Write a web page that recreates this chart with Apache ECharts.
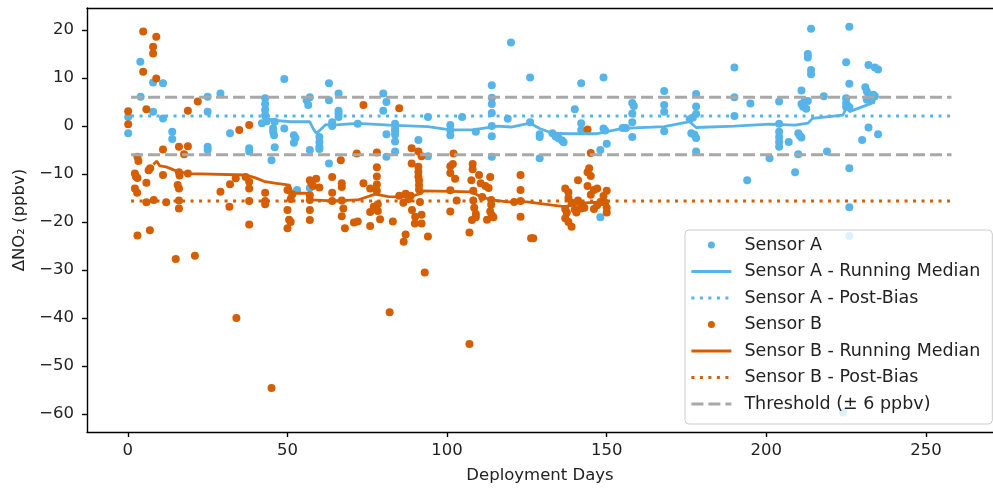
<!DOCTYPE html>
<html>
<head>
<meta charset="utf-8">
<script src="https://cdn.jsdelivr.net/npm/echarts@6/dist/echarts.min.js"></script>
<style>
  html, body { margin: 0; padding: 0; background: #fff; }
  #chart { width: 993px; height: 494px; }
</style>
</head>
<body>
<div id="chart"></div>
<script>
// Sensor A points [day, ΔNO2]
const sensorA = [
  [0.1, 1.9], [0.1, -1.5], [3.9, 13.4], [4, 6.1], [7.9, 9.1], [7.9, 3.0], [11, 8.9], [11, 1.6], [13.9, -1.2], [13.9, -2.7],
  [25, 6.1], [25, 3.0], [25, -4.3], [25, -5.0], [29, 6.8], [32, -1.5], [38, -4.6], [38, -5.3],
  [42, 0.6], [43, 5.8], [43, 4.6], [43, 3.4], [43, 2.3], [43.5, 1.0], [45.5, -0.5], [45.5, -1.2], [45.8, -1.9], [46, -4.4], [45, -7.1], [46, 0.9],
  [49, 9.8], [49, -0.5], [52, -1.9], [52.5, -2.5], [52, -3.5], [53, -13.3], [56, 5.4], [56.5, 4.4], [57, 6.0], [57, -5.0], [57, -12.9],
  [60, -2.3], [60, -3.3], [60, -4.3], [60, -4.8], [63, 8.9], [63, 5.4], [63, -7.8], [64, 0.8], [64, 0], [66, 6.8], [66, 3.2], [66, 2.6], [66, 1.9],
  [72, 0.5], [80, 6.8], [81, 5.0], [80, 3.2], [81, -1.7], [81, -6.4],
  [83.7, 0.5], [83.7, -0.5], [83.7, -1.1], [83.7, -1.8], [83.7, -3.2], [83.7, -5.3], [91, -2.9], [94, 1.9], [94, -6.3],
  [101, 0.2], [101, -0.8], [101, -1.9], [104.7, 1.9], [109, -1.2],
  [114, 8.5], [114, 5.9], [114, 4.6], [114, 2.7], [114, 0], [114, -2.1], [114, -6.4],
  [119, 1.5], [120, 17.4], [126, 10.1], [126, 0.8], [129, -1.7], [129, -2.3], [129, -6.7],
  [133, -1.5], [134, -2.2], [135, -2.6], [136, -3.0], [136.5, -3.4], [140, 3.5], [142, 8.9], [142, 0.6], [142, -0.8],
  [148, -5.0], [148, -19.0], [149, 10.1], [149, -0.5], [149.5, -0.9], [150, -3.7],
  [155, -0.4], [156, -0.4], [158, 4.8], [158.5, 4.2], [158, 2.6], [158, 0.8], [158, -2.3],
  [168, 7.3], [168, 4.4], [168, 3.0], [168, -1.1],
  [178, 6.7], [178, 4.1], [178, 2.5], [177, 1.8], [176, 1.4], [176.5, -1.5], [177.5, -1.8], [178, -2.5], [178, -5.3],
  [190, 12.2], [190, 6.0], [190, 2.1], [195, 4.7], [194, -11.3], [201, -6.7],
  [204, 5.1], [204, 0.5], [204, -1.2], [204, -2.3], [204, -3.3], [204, -4.3], [207, -3.3],
  [210, -1.5], [210.5, -2.0], [211, -2.4], [210, -5.9], [209, -9.6],
  [211, 7.4], [211, 4.6], [211.5, 4.0], [212, 5.2], [212.5, 3.6], [213, 5.2], [213, 15.0], [213, 14.3], [214, 20.3], [214, 11.7], [214, 10.8],
  [218, 6.2], [219, -5.3],
  [225, 13.3], [226, 20.7], [226, 8.8], [225, 5.8], [225, 4.8], [225.5, 4.2], [226, 3.9], [225, 4.0], [226, -8.8], [226, -16.9], [226, -22.9], [224, -59.7],
  [231, 8.1], [231.5, 7.2], [232, 6.2], [233, 5.4], [233.5, 6.5], [231.5, 5.5], [234, 6.2], [232, 12.7], [234, 12.2], [235, 11.8],
  [232, -0.3], [230, -2.9], [235, -1.7]
];

// Sensor B points [day, ΔNO2]
const sensorB = [
  [0.1, 3.1], [0.1, 0.4], [4.8, 19.7], [8.9, 18.6], [7.9, 16.5], [7.9, 15.1], [4.8, 11.3], [8.9, 9.9], [5.8, 3.5],
  [3, -6.4], [3.3, -7.3], [2.2, -9.9], [2.5, -10.5], [3, -10.8], [2.2, -13], [2.9, -13.9], [5.8, -11.8], [7, -8.8], [6.5, -9.2],
  [5.8, -15.9], [8.1, -15.4], [11, -4.9], [11, -10.2], [12, -15.9], [3, -22.8], [6.9, -21.7],
  [15.6, -12.3], [16, -13], [16, -9.6], [16.2, -10.3], [16, -15.5], [16, -17.2], [18.8, -9.9], [18.8, -4.2], [16, -4.3], [17.6, -5.9],
  [15, -27.7], [21, -27], [18.8, 3.2], [21.9, 5.1],
  [29, -13.7], [32, -12.1], [33.8, -10.9], [36.9, -10.6], [38, -11.6], [38, -13], [38, -15.6], [38, -20.5], [31.8, -16.8],
  [43, -13.9], [43, -15.6], [43, -16.3], [34.9, -0.8], [38, 0.2], [34, -40],
  [45, -54.6], [50, -17.5], [50.5, -19.5], [50, -21.3], [51, -20], [51.5, -14.2], [51, -15.2], [50, -13.3],
  [57, -11.3], [57.5, -11.9], [58, -12.5], [59, -11], [60, -12.8], [57, -17.5], [57, -19.6], [57, -14.4], [57, -15.4],
  [64, -10.6], [64, -13.9], [64, -15.6], [66.7, -7.1], [67, -11.9], [67, -12.7], [67, -15.5], [67.5, -17.2], [67, -18.8], [68, -21.3],
  [70.8, -20.1], [73.8, -11.9], [73.8, 4.4], [71.7, -5.7], [75.9, -13], [75.9, -17.9], [75.9, -20.8],
  [78, -8.6], [78, -10.5], [78, -12.2], [78, -13.5], [78.3, -16.3], [78.3, -17.7], [78, -5.5], [77, -16.8], [79, -19.4], [72, -19.9],
  [82, -38.8], [83, -19.9], [86.4, -24.1], [87, -22.6], [85, 3.7], [86.3, -16], [88.9, -4.6], [88.9, -7.8], [88.6, -14.5], [89, -17.5], [89.9, -20.3],
  [91, -8.5], [91, -9.5], [91, -10.5], [91.2, -11.3], [91.2, -12.3], [91.2, -13.2], [91.5, -15.8], [91, -5.3], [92, -6.3], [92, -20.3],
  [94, -23], [93, -30.5], [85, -14.5], [87, -14.1], [88, -15.2], [90, -18.9], [92, -18.5],
  [101, -8.4], [101, -9.8], [101, -13.4], [101, -17.8], [102, -5.7], [101.8, -7.9], [102.5, -11], [103, -15.5],
  [107, -45.4], [107, -22.2], [107.8, -19.6], [107.6, -11.3], [108, -9], [108, -7.9], [108.2, -13.5], [108.2, -15.5], [108.5, -17], [109, -18.3], [109, -19],
  [110, -10.2], [110.5, -11.9], [111, -14.8], [112, -12.5], [113, -12.9], [113.5, -10.6], [113.8, -15.4], [113.8, -16.4], [113.5, -17.8], [114, -18.6], [112.5, -19.5], [114.5, -19],
  [121, -15.8], [123, -10.2], [123, -13.3], [123, -15.6], [123, -18.9], [127, -23.4], [126.3, -23.4],
  [137, -13], [138, -13.8], [138, -15], [139, -16], [137, -17.3], [137.5, -18], [137, -19.2], [138, -20], [139, -21], [140, -17.4],
  [141, -15.5], [142, -16.3], [142, -17.2], [143, -17], [140.5, -18], [141, -11.3], [144, -9.6], [145, -10.4], [144.5, -8.8], [144, -12.5],
  [145, -14.3], [146, -13.3], [147, -13], [146, -17.3], [147, -16.5], [148, -15.8], [149, -14.6], [149.5, -16], [150, -17], [150, -18], [150, -13.5],
  [144, -0.7], [145, -5.6]
];

// running medians
const medianA = [
  [42, 1.8], [44, 1.5], [46, 1.2], [51, 0.9], [57, 0.9], [58, -0.5], [59, -1.5], [60, -1.0], [62, 0.3], [64, 0.2], [72, 0.55],
  [82, 0.2], [94, -0.1], [101, -0.8], [108, -0.8], [110, -0.6], [116, 0], [120, -0.2], [126, 0.6], [129, -0.5], [133, -1.5],
  [138, -1.6], [147, -1.6], [155, -0.5], [168, -0.1], [176, 0.9], [178, -0.3], [190, 0.0], [201, 0.4], [209, 0.2], [213, 0.6],
  [214.5, 1.6], [224, 2.3], [225.5, 4.4], [226, 3.0], [230, 4.0], [234, 5.0]
];
const medianB = [
  [8, -8], [9, -7.3], [10, -8.3], [12, -8.5], [15.7, -9.5], [19.3, -9.9], [37, -10.2], [40, -10.8], [43, -11.6], [46, -11.9],
  [50.6, -12.3], [51.5, -14], [56, -14], [57.6, -15.4], [64, -15.6], [72, -15.4], [77.5, -14.2], [81.6, -14.7], [88, -14.8],
  [92, -14], [92.5, -13.5], [101, -13.6], [107.5, -13.7], [110, -14.5], [113.8, -15.4], [119, -15.8], [125, -15.8],
  [136.7, -16.8], [143, -16], [150, -15.8]
];

// horizontal reference levels
const lineDays = [1, 258];
const postBiasA = 2.1;
const postBiasB = -15.6;
const threshold = 6;

const xTicks = [0, 50, 100, 150, 200, 250];
const yTicks = [-60, -50, -40, -30, -20, -10, 0, 10, 20];

const BLUE = '#56B4E9';
const ORANGE = '#D55E00';
const GREY = '#A8A8A8';
const FONT = 'DejaVu Sans';

function hline(y) {
  return lineDays.map(d => [d, y]);
}
function fmtMinus(v) {
  return v < 0 ? '\u2212' + Math.abs(v) : String(v);
}
// legend entry for a line series: hide the little symbol in the middle
function lineEntry(name) {
  return { name: name, itemStyle: { color: 'rgba(0,0,0,0)', borderWidth: 0 } };
}

const chart = echarts.init(document.getElementById('chart'), null, { renderer: 'canvas' });

const axisLineStyle = { color: '#000', width: 1.4 };

const option = {
  animation: false,
  backgroundColor: '#fff',
  grid: { left: 87, top: 8, width: 911, height: 424 },
  legend: {
    orient: 'vertical',
    left: 685,
    top: 230,
    padding: [5, 12, 10, 5],
    itemWidth: 40,
    itemHeight: 7,
    itemGap: 6.5,
    backgroundColor: 'rgba(255,255,255,0.8)',
    borderColor: '#cccccc',
    borderWidth: 1,
    borderRadius: 4,
    lineStyle: { width: 2.8 },
    textStyle: { fontFamily: FONT, fontSize: 17.5, color: '#222', lineHeight: 20, padding: [0, 0, 0, 8] },
    data: [
      { name: 'Sensor A', icon: 'circle' },
      lineEntry('Sensor A - Running Median'),
      lineEntry('Sensor A - Post-Bias'),
      { name: 'Sensor B', icon: 'circle' },
      lineEntry('Sensor B - Running Median'),
      lineEntry('Sensor B - Post-Bias'),
      lineEntry('Threshold (± 6 ppbv)')
    ]
  },
  xAxis: [
    {
      type: 'value',
      min: -12.8,
      max: 271,
      name: 'Deployment Days',
      nameLocation: 'middle',
      nameGap: 35,
      nameTextStyle: { fontFamily: FONT, fontSize: 16.5, color: '#222' },
      axisLine: { show: true, onZero: false, lineStyle: axisLineStyle },
      axisTick: { show: true, length: 5, lineStyle: axisLineStyle, customValues: xTicks },
      axisLabel: { fontFamily: FONT, fontSize: 16.5, color: '#222', margin: 10, customValues: xTicks, formatter: fmtMinus },
      splitLine: { show: false }
    },
    {
      // top spine only
      type: 'value',
      position: 'top',
      min: -12.8,
      max: 271,
      axisLine: { show: true, onZero: false, lineStyle: axisLineStyle },
      axisTick: { show: false },
      axisLabel: { show: false },
      splitLine: { show: false }
    }
  ],
  yAxis: {
    type: 'value',
    min: -63.75,
    max: 24.6,
    name: 'ΔNO₂ (ppbv)',
    nameLocation: 'middle',
    nameGap: 58,
    nameRotate: 90,
    nameTextStyle: { fontFamily: FONT, fontSize: 16.5, color: '#222' },
    axisLine: { show: true, onZero: false, lineStyle: axisLineStyle },
    axisTick: { show: true, length: 5, lineStyle: axisLineStyle, customValues: yTicks },
    axisLabel: { fontFamily: FONT, fontSize: 16.5, color: '#222', margin: 13, customValues: yTicks, formatter: fmtMinus },
    splitLine: { show: false }
  },
  series: [
    {
      name: 'Sensor A',
      type: 'scatter',
      data: sensorA,
      symbol: 'circle',
      symbolSize: 8,
      itemStyle: { color: BLUE, opacity: 1 }
    },
    {
      name: 'Sensor A - Running Median',
      type: 'line',
      data: medianA,
      symbol: 'none',
      lineStyle: { color: BLUE, width: 2.8 },
      itemStyle: { color: BLUE }
    },
    {
      name: 'Sensor A - Post-Bias',
      type: 'line',
      data: hline(postBiasA),
      symbol: 'none',
      lineStyle: { color: BLUE, width: 3, type: [3, 5.5] },
      itemStyle: { color: BLUE }
    },
    {
      name: 'Sensor B',
      type: 'scatter',
      data: sensorB,
      symbol: 'circle',
      symbolSize: 8,
      itemStyle: { color: ORANGE, opacity: 1 }
    },
    {
      name: 'Sensor B - Running Median',
      type: 'line',
      data: medianB,
      symbol: 'none',
      lineStyle: { color: ORANGE, width: 2.8 },
      itemStyle: { color: ORANGE }
    },
    {
      name: 'Sensor B - Post-Bias',
      type: 'line',
      data: hline(postBiasB),
      symbol: 'none',
      lineStyle: { color: ORANGE, width: 3, type: [3, 5.5] },
      itemStyle: { color: ORANGE }
    },
    {
      name: 'Threshold (± 6 ppbv)',
      type: 'line',
      data: hline(threshold),
      symbol: 'none',
      lineStyle: { color: GREY, width: 3, type: [12, 5] },
      itemStyle: { color: GREY }
    },
    {
      name: 'Threshold (± 6 ppbv)',
      type: 'line',
      data: hline(-threshold),
      symbol: 'none',
      lineStyle: { color: GREY, width: 3, type: [12, 5] },
      itemStyle: { color: GREY }
    }
  ]
};

chart.setOption(option);
</script>
</body>
</html>
